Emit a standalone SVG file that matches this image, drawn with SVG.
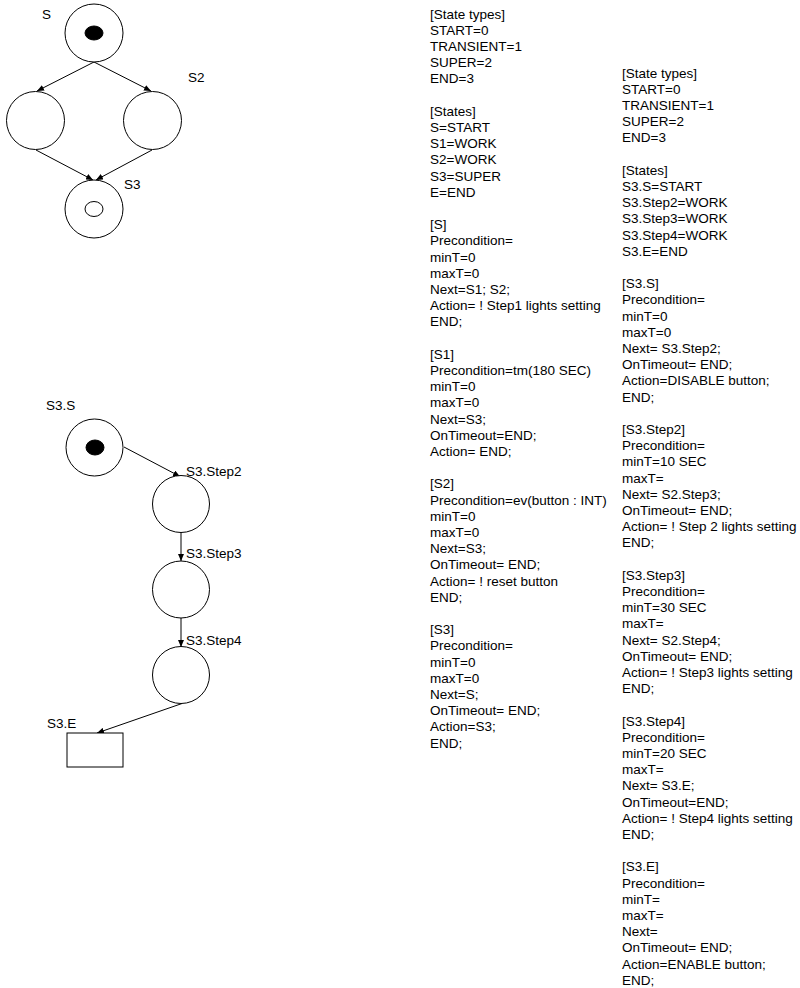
<svg xmlns="http://www.w3.org/2000/svg" width="800" height="988" viewBox="0 0 800 988">
<defs>
<marker id="ah" markerUnits="userSpaceOnUse" markerWidth="7" markerHeight="6" refX="7" refY="3" orient="auto">
<path d="M0,0 L7,3 L0,6 z" fill="#000"/>
</marker>
<style>
.st{fill:#fff;stroke:#000;stroke-width:1}
.dot{fill:#000;stroke:#000;stroke-width:1}
.ring{fill:#fff;stroke:#000;stroke-width:1}
.lbl{font-family:"Liberation Sans",Arial,sans-serif;font-size:13.5px;fill:#000}
.txt{font-family:"Liberation Sans",Arial,sans-serif;font-size:13.5px;fill:#000}
.cn{fill:none;stroke:#000;stroke-width:1;marker-end:url(#ah)}
</style>
</defs>
<rect width="800" height="988" fill="#fff"/>

<g id="connectors">
<line class="cn" x1="94" y1="62" x2="37" y2="91"/>
<line class="cn" x1="94" y1="62" x2="151" y2="91"/>
<line class="cn" x1="36" y1="150" x2="93" y2="180"/>
<line class="cn" x1="152" y1="150" x2="96" y2="180"/>
<line class="cn" x1="124" y1="447" x2="180" y2="476.5"/>
<line class="cn" x1="181" y1="532" x2="181" y2="561"/>
<line class="cn" x1="181" y1="618" x2="181" y2="647"/>
<line class="cn" x1="182" y1="703.5" x2="97" y2="733"/>
</g>

<g id="node-S">
<circle class="st" cx="94" cy="33" r="29"/>
<ellipse class="dot" cx="94" cy="33" rx="9" ry="7"/>
<text class="lbl" x="42" y="19">S</text>
</g>
<g id="node-S1">
<circle class="st" cx="35.5" cy="120.5" r="29"/>
</g>
<g id="node-S2">
<circle class="st" cx="152.5" cy="120.5" r="29"/>
<text class="lbl" x="188" y="82">S2</text>
</g>
<g id="node-S3">
<circle class="st" cx="94" cy="209" r="29"/>
<ellipse class="ring" cx="94" cy="209" rx="9" ry="7.5"/>
<text class="lbl" x="124" y="189">S3</text>
</g>

<g id="node-S3S">
<circle class="st" cx="94.5" cy="447.5" r="28.5"/>
<ellipse class="dot" cx="95" cy="447.5" rx="9" ry="7.5"/>
<text class="lbl" x="46" y="410">S3.S</text>
</g>
<g id="node-S3Step2">
<circle class="st" cx="181" cy="504" r="28.5"/>
<text class="lbl" x="186" y="475.5">S3.Step2</text>
</g>
<g id="node-S3Step3">
<circle class="st" cx="181" cy="589.5" r="28.5"/>
<text class="lbl" x="186" y="558">S3.Step3</text>
</g>
<g id="node-S3Step4">
<circle class="st" cx="181" cy="675" r="28.5"/>
<text class="lbl" x="186" y="645">S3.Step4</text>
</g>
<g id="node-S3E">
<rect class="st" x="67" y="733" width="56" height="34"/>
<text class="lbl" x="47" y="728">S3.E</text>
</g>

<g id="text-left">
<text class="txt" x="430" y="18.5">
<tspan x="430" dy="0">[State types]</tspan>
<tspan x="430" dy="16.2">START=0</tspan>
<tspan x="430" dy="16.2">TRANSIENT=1</tspan>
<tspan x="430" dy="16.2">SUPER=2</tspan>
<tspan x="430" dy="16.2">END=3</tspan>
<tspan x="430" dy="32.4">[States]</tspan>
<tspan x="430" dy="16.2">S=START</tspan>
<tspan x="430" dy="16.2">S1=WORK</tspan>
<tspan x="430" dy="16.2">S2=WORK</tspan>
<tspan x="430" dy="16.2">S3=SUPER</tspan>
<tspan x="430" dy="16.2">E=END</tspan>
<tspan x="430" dy="32.4">[S]</tspan>
<tspan x="430" dy="16.2">Precondition=</tspan>
<tspan x="430" dy="16.2">minT=0</tspan>
<tspan x="430" dy="16.2">maxT=0</tspan>
<tspan x="430" dy="16.2">Next=S1; S2;</tspan>
<tspan x="430" dy="16.2">Action= ! Step1 lights setting</tspan>
<tspan x="430" dy="16.2">END;</tspan>
<tspan x="430" dy="32.4">[S1]</tspan>
<tspan x="430" dy="16.2">Precondition=tm(180 SEC)</tspan>
<tspan x="430" dy="16.2">minT=0</tspan>
<tspan x="430" dy="16.2">maxT=0</tspan>
<tspan x="430" dy="16.2">Next=S3;</tspan>
<tspan x="430" dy="16.2">OnTimeout=END;</tspan>
<tspan x="430" dy="16.2">Action= END;</tspan>
<tspan x="430" dy="32.4">[S2]</tspan>
<tspan x="430" dy="16.2">Precondition=ev(button : INT)</tspan>
<tspan x="430" dy="16.2">minT=0</tspan>
<tspan x="430" dy="16.2">maxT=0</tspan>
<tspan x="430" dy="16.2">Next=S3;</tspan>
<tspan x="430" dy="16.2">OnTimeout= END;</tspan>
<tspan x="430" dy="16.2">Action= ! reset button</tspan>
<tspan x="430" dy="16.2">END;</tspan>
<tspan x="430" dy="32.4">[S3]</tspan>
<tspan x="430" dy="16.2">Precondition=</tspan>
<tspan x="430" dy="16.2">minT=0</tspan>
<tspan x="430" dy="16.2">maxT=0</tspan>
<tspan x="430" dy="16.2">Next=S;</tspan>
<tspan x="430" dy="16.2">OnTimeout= END;</tspan>
<tspan x="430" dy="16.2">Action=S3;</tspan>
<tspan x="430" dy="16.2">END;</tspan>
</text>
</g>

<g id="text-right">
<text class="txt" x="622" y="77.5">
<tspan x="622" dy="0">[State types]</tspan>
<tspan x="622" dy="16.2">START=0</tspan>
<tspan x="622" dy="16.2">TRANSIENT=1</tspan>
<tspan x="622" dy="16.2">SUPER=2</tspan>
<tspan x="622" dy="16.2">END=3</tspan>
<tspan x="622" dy="32.4">[States]</tspan>
<tspan x="622" dy="16.2">S3.S=START</tspan>
<tspan x="622" dy="16.2">S3.Step2=WORK</tspan>
<tspan x="622" dy="16.2">S3.Step3=WORK</tspan>
<tspan x="622" dy="16.2">S3.Step4=WORK</tspan>
<tspan x="622" dy="16.2">S3.E=END</tspan>
<tspan x="622" dy="32.4">[S3.S]</tspan>
<tspan x="622" dy="16.2">Precondition=</tspan>
<tspan x="622" dy="16.2">minT=0</tspan>
<tspan x="622" dy="16.2">maxT=0</tspan>
<tspan x="622" dy="16.2">Next= S3.Step2;</tspan>
<tspan x="622" dy="16.2">OnTimeout= END;</tspan>
<tspan x="622" dy="16.2">Action=DISABLE button;</tspan>
<tspan x="622" dy="16.2">END;</tspan>
<tspan x="622" dy="32.4">[S3.Step2]</tspan>
<tspan x="622" dy="16.2">Precondition=</tspan>
<tspan x="622" dy="16.2">minT=10 SEC</tspan>
<tspan x="622" dy="16.2">maxT=</tspan>
<tspan x="622" dy="16.2">Next= S2.Step3;</tspan>
<tspan x="622" dy="16.2">OnTimeout= END;</tspan>
<tspan x="622" dy="16.2">Action= ! Step 2 lights setting</tspan>
<tspan x="622" dy="16.2">END;</tspan>
<tspan x="622" dy="32.4">[S3.Step3]</tspan>
<tspan x="622" dy="16.2">Precondition=</tspan>
<tspan x="622" dy="16.2">minT=30 SEC</tspan>
<tspan x="622" dy="16.2">maxT=</tspan>
<tspan x="622" dy="16.2">Next= S2.Step4;</tspan>
<tspan x="622" dy="16.2">OnTimeout= END;</tspan>
<tspan x="622" dy="16.2">Action= ! Step3 lights setting</tspan>
<tspan x="622" dy="16.2">END;</tspan>
<tspan x="622" dy="32.4">[S3.Step4]</tspan>
<tspan x="622" dy="16.2">Precondition=</tspan>
<tspan x="622" dy="16.2">minT=20 SEC</tspan>
<tspan x="622" dy="16.2">maxT=</tspan>
<tspan x="622" dy="16.2">Next= S3.E;</tspan>
<tspan x="622" dy="16.2">OnTimeout=END;</tspan>
<tspan x="622" dy="16.2">Action= ! Step4 lights setting</tspan>
<tspan x="622" dy="16.2">END;</tspan>
<tspan x="622" dy="32.4">[S3.E]</tspan>
<tspan x="622" dy="16.2">Precondition=</tspan>
<tspan x="622" dy="16.2">minT=</tspan>
<tspan x="622" dy="16.2">maxT=</tspan>
<tspan x="622" dy="16.2">Next=</tspan>
<tspan x="622" dy="16.2">OnTimeout= END;</tspan>
<tspan x="622" dy="16.2">Action=ENABLE button;</tspan>
<tspan x="622" dy="16.2">END;</tspan>
</text>
</g>
</svg>
